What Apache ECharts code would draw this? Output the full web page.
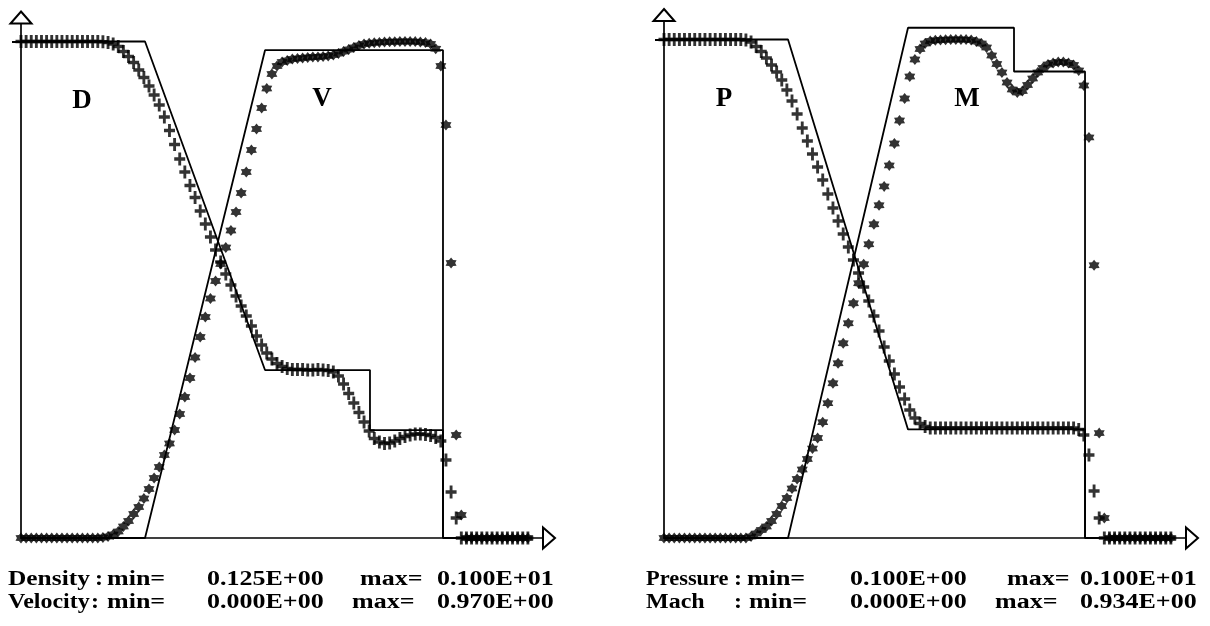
<!DOCTYPE html>
<html>
<head>
<meta charset="utf-8">
<script src="https://cdn.jsdelivr.net/npm/echarts@6/dist/echarts.min.js"></script>
<style>
  html, body { margin: 0; padding: 0; background: #fff; }
  #chart { width: 1210px; height: 626px; }
</style>
</head>
<body>
<div id="chart"></div>
<script>
// Shock tube: computed cell values (100 cells, x = cell index) and the exact solution.

// Left panel: density (+) and velocity (*)
const density = [
  1.0, 1.0, 1.0, 1.0, 1.0, 1.0, 1.0, 1.0, 1.0, 1.0, 1.0, 1.0, 1.0, 1.0, 1.0, 1.0,
  0.9995, 0.9982, 0.9956, 0.9912, 0.9824, 0.9736, 0.9630, 0.9498, 0.9365, 0.9216,
  0.9057, 0.8881, 0.8669, 0.8431, 0.8185, 0.7929, 0.7700, 0.7462, 0.7251, 0.7013,
  0.6784, 0.6555, 0.6325, 0.6114, 0.5903, 0.5709, 0.5515, 0.5339, 0.5162, 0.4986,
  0.4810, 0.4651, 0.4510, 0.4405, 0.4325, 0.4272, 0.4237, 0.4219, 0.4219, 0.4219,
  0.4211, 0.4211, 0.4219, 0.4211, 0.4202, 0.4175, 0.4105, 0.3964, 0.3797, 0.3629,
  0.3462, 0.3294, 0.3136, 0.3004, 0.2942, 0.2915, 0.2924, 0.2959, 0.3004, 0.3039,
  0.3065, 0.3083, 0.3083, 0.3074, 0.3056, 0.3021, 0.2959, 0.2625, 0.2061, 0.1602,
  0.125, 0.125, 0.125, 0.125, 0.125, 0.125, 0.125, 0.125, 0.125, 0.125, 0.125, 0.125, 0.125, 0.125
];
const velocity = [
  0, 0, 0, 0, 0, 0, 0, 0, 0, 0, 0, 0, 0, 0, 0, 0,
  0.0010, 0.0029, 0.0068, 0.0127, 0.0225, 0.0332, 0.0469, 0.0606, 0.0772, 0.0957,
  0.1172, 0.1387, 0.1622, 0.1846, 0.2110, 0.2423, 0.2755, 0.3126, 0.3526, 0.3927,
  0.4318, 0.4679, 0.5021, 0.5353, 0.5676, 0.6008, 0.6369, 0.6740, 0.7151, 0.7581,
  0.7991, 0.8401, 0.8782, 0.9065, 0.9221, 0.9300, 0.9329, 0.9358, 0.9368, 0.9378,
  0.9387, 0.9397, 0.9397, 0.9407, 0.9417, 0.9436, 0.9466, 0.9505, 0.9544, 0.9583,
  0.9622, 0.9651, 0.9665, 0.9675, 0.9683, 0.9689, 0.9694, 0.9697, 0.9699, 0.9700,
  0.9700, 0.9698, 0.9692, 0.9680, 0.9650, 0.9560, 0.9221, 0.8069, 0.5373, 0.2012,
  0.0449, 0, 0, 0, 0, 0, 0, 0, 0, 0, 0, 0, 0, 0
];
// Right panel: pressure (+) and Mach number (*)
const pressure = [
  1.0, 1.0, 1.0, 1.0, 1.0, 1.0, 1.0, 1.0, 1.0, 1.0, 1.0, 1.0, 1.0, 1.0, 1.0, 1.0,
  0.9991, 0.9955, 0.9874, 0.9783, 0.9666, 0.9540, 0.9413, 0.9269, 0.9088, 0.8890,
  0.8655, 0.8402, 0.8167, 0.7933, 0.7698, 0.7463, 0.7211, 0.6958, 0.6723, 0.6488,
  0.6254, 0.6019, 0.5784, 0.5532, 0.5279, 0.5008, 0.4737, 0.4448, 0.4196, 0.3961,
  0.3726, 0.3510, 0.3311, 0.3166, 0.3067, 0.3013, 0.2986, 0.2986, 0.2986, 0.2986,
  0.2986, 0.2986, 0.2986, 0.2986, 0.2986, 0.2986, 0.2986, 0.2986, 0.2986, 0.2986,
  0.2986, 0.2986, 0.2986, 0.2986, 0.2986, 0.2986, 0.2986, 0.2986, 0.2986, 0.2986,
  0.2986, 0.2986, 0.2986, 0.2986, 0.2986, 0.2959, 0.2860, 0.2498, 0.1849, 0.1361,
  0.1, 0.1, 0.1, 0.1, 0.1, 0.1, 0.1, 0.1, 0.1, 0.1, 0.1, 0.1, 0.1, 0.1
];
const mach = [
  0, 0, 0, 0, 0, 0, 0, 0, 0, 0, 0, 0, 0, 0, 0, 0, 0,
  0.0028, 0.0084, 0.0150, 0.0215, 0.0318, 0.0449, 0.0599, 0.0749, 0.0926, 0.1104,
  0.1282, 0.1479, 0.1675, 0.1872, 0.2171, 0.2527, 0.2901, 0.3275, 0.3650, 0.4024,
  0.4398, 0.4773, 0.5128, 0.5503, 0.5877, 0.6233, 0.6588, 0.6981, 0.7393, 0.7824,
  0.8235, 0.8647, 0.8965, 0.9162, 0.9265, 0.9312, 0.9325, 0.9332, 0.9336, 0.9340,
  0.9340, 0.9340, 0.9338, 0.9329, 0.9302, 0.9265, 0.9190, 0.9040, 0.8881, 0.8722,
  0.8535, 0.8404, 0.8348, 0.8376, 0.8488, 0.8610, 0.8722, 0.8806, 0.8872, 0.8900,
  0.8919, 0.8919, 0.8900, 0.8863, 0.8760, 0.8479, 0.7506, 0.5110, 0.1965, 0.0374,
  0, 0, 0, 0, 0, 0, 0, 0, 0, 0, 0, 0, 0
];

// Exact solution breakpoints (x in cell-index units)
const densityExactX = [0, 24.22, 47.66, 68.16, 68.16, 82.42, 82.42, 99];
const densityExactY = [1.0, 1.0, 0.421, 0.421, 0.315, 0.315, 0.125, 0.125];
const velocityExactX = [0, 24.22, 47.66, 82.42, 82.42];
const velocityExactY = [0, 0, 0.953, 0.953, 0];
const pressureExactX = [0, 24.22, 47.66, 82.23, 82.23, 99];
const pressureExactY = [1.0, 1.0, 0.296, 0.296, 0.1, 0.1];
const machExactX = [0, 24.22, 47.66, 68.36, 68.36, 82.23, 82.23];
const machExactY = [0, 0, 0.956, 0.956, 0.874, 0.874, 0];

// Axis ranges: each variable is scaled between its own min and max
const densityRange = [0.125, 1.0423];
const velocityRange = [0, 1.0169];
const pressureRange = [0.1, 1.0442];
const machRange = [0, 0.9799];
const xRange = [0, 103.125];

const panelLabels = ['D', 'V', 'P', 'M'];
const summaryLeft = [
  ['Density', ':', 'min=', '0.125E+00', 'max=', '0.100E+01'],
  ['Velocity', ':', 'min=', '0.000E+00', 'max=', '0.970E+00']
];
const summaryRight = [
  ['Pressure', ':', 'min=', '0.100E+00', 'max=', '0.100E+01'],
  ['Mach', ':', 'min=', '0.000E+00', 'max=', '0.934E+00']
];

const INK = '#000';
const plusPath = 'path://M3.7,0H6.3V3.7H10V6.3H6.3V10H3.7V6.3H0V3.7H3.7Z';
const starPath = 'path://M5,0L6.6,2.3L9.33,2.5L8.2,5L9.33,7.5L6.6,7.7L5,10L3.4,7.7L0.67,7.5L1.8,5L0.67,2.5L3.4,2.3Z';

const pairs = (xs, ys) => xs.map((x, i) => [x, ys[i]]);
const indexed = (vals) => vals.map((v, i) => [i, v]);

const arrowLine = {
  show: true,
  symbol: ['none', 'emptyTriangle'],
  symbolSize: [21, 12],
  lineStyle: { color: INK, width: 1.7 }
};
function xAxisFor(gridIndex) {
  return {
    type: 'value', gridIndex, min: xRange[0], max: xRange[1],
    axisLine: arrowLine, axisTick: { show: false }, axisLabel: { show: false },
    splitLine: { show: false }
  };
}
function mainYAxis(gridIndex, range) {
  return {
    type: 'value', gridIndex, min: range[0], max: range[1], position: 'left',
    axisLine: arrowLine,
    axisTick: { show: true, customValues: [1], length: 9, inside: false,
                lineStyle: { color: INK, width: 2 } },
    axisLabel: { show: false }, splitLine: { show: false }
  };
}
function hiddenYAxis(gridIndex, range) {
  return { type: 'value', gridIndex, min: range[0], max: range[1], show: false,
           splitLine: { show: false } };
}

function exactLine(xi, yi, data) {
  return {
    type: 'line', xAxisIndex: xi, yAxisIndex: yi, data,
    showSymbol: false, symbol: 'none', clip: false, silent: true,
    lineStyle: { color: INK, width: 1.8 }, z: 3
  };
}
function numeric(xi, yi, vals, sym, size) {
  return {
    type: 'scatter', xAxisIndex: xi, yAxisIndex: yi, data: indexed(vals),
    symbol: sym, symbolSize: size, clip: false, silent: true,
    itemStyle: { color: INK }, z: 4
  };
}

// Summary lines under each panel: a wide bold serif face
const textFont = 'bold 20px "Liberation Serif", "Times New Roman", serif';
const numScale = 1.3;
const wordScale = [[1.27, 1.2], [1.12, 1.2]];
const graphics = [];
[[82, 101], [322, 99], [724, 99], [967, 99]].forEach((p, i) => {
  graphics.push({ type: 'text', x: p[0], y: p[1],
    style: { text: panelLabels[i], fill: INK, font: 'bold 27px "Liberation Serif", serif',
             align: 'center', verticalAlign: 'middle' } });
});
const colLeft = [[8, 95, 107, 207, 360, 437], [8, 91, 107, 207, 352, 437]];
const colRight = [[646, 734, 747, 850, 1007, 1080], [646, 734, 749, 850, 995, 1080]];
const rowY = [579.5, 602.5];
[[summaryLeft, colLeft], [summaryRight, colRight]].forEach(([rows, cols], side) => {
  rows.forEach((row, r) => {
    row.forEach((txt, c) => {
      const sx = c === 0 ? wordScale[side][r] : (c === 1 ? 1.2 : numScale);
      graphics.push({ type: 'text', x: cols[r][c], y: rowY[r], scaleX: sx,
        style: { text: txt, fill: INK, font: textFont, verticalAlign: 'middle' } });
    });
  });
});

const chart = echarts.init(document.getElementById('chart'), null, { renderer: 'canvas' });
chart.setOption({
  animation: false,
  backgroundColor: '#fff',
  grid: [
    { left: 21, top: 17.5, width: 528, height: 520.5 },
    { left: 664, top: 15, width: 528, height: 523 }
  ],
  xAxis: [xAxisFor(0), xAxisFor(1)],
  yAxis: [
    mainYAxis(0, densityRange), hiddenYAxis(0, velocityRange),
    mainYAxis(1, pressureRange), hiddenYAxis(1, machRange)
  ],
  series: [
    exactLine(0, 0, pairs(densityExactX, densityExactY)),
    exactLine(0, 1, pairs(velocityExactX, velocityExactY)),
    numeric(0, 0, density, plusPath, [11, 13]),
    numeric(0, 1, velocity, starPath, 11),
    exactLine(1, 2, pairs(pressureExactX, pressureExactY)),
    exactLine(1, 3, pairs(machExactX, machExactY)),
    numeric(1, 2, pressure, plusPath, [11, 13]),
    numeric(1, 3, mach, starPath, 11)
  ],
  graphic: graphics
});
</script>
</body>
</html>
